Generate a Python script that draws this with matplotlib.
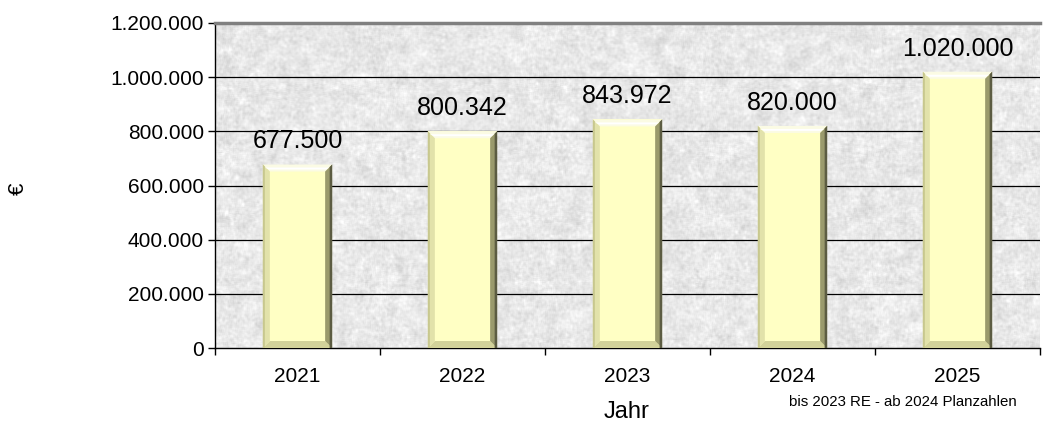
import numpy as np
import matplotlib
matplotlib.use("Agg")
import matplotlib.pyplot as plt
from matplotlib.patches import Polygon

plt.rcParams['font.family'] = ['Liberation Sans', 'DejaVu Sans']

years = ['2021', '2022', '2023', '2024', '2025']
values = [677500, 800342, 843972, 820000, 1020000]
yticks = [0, 200000, 400000, 600000, 800000, 1000000, 1200000]


def de_fmt(v):
    return f"{v:,.0f}".replace(',', '.')


fig = plt.figure(figsize=(10.45, 4.30), dpi=100)
ax = fig.add_axes([215 / 1045, 82 / 430, 825 / 1045, 325 / 430])
ax.set_xlim(-0.5, len(years) - 0.5)
ax.set_ylim(0, 1200000)

# marble-like gray backdrop
rng = np.random.default_rng(7)
def smooth(a, k):
    kern = np.ones(k) / k
    a = np.apply_along_axis(lambda r: np.convolve(r, kern, mode='same'), 0, a)
    a = np.apply_along_axis(lambda r: np.convolve(r, kern, mode='same'), 1, a)
    return a
fine = smooth(rng.normal(size=(330, 830)), 3)
coarse = smooth(rng.normal(size=(330, 830)), 11)
tex = np.clip(0.91 + 0.06 * fine + 0.2 * coarse, 0, 1)
ax.imshow(tex, extent=[-0.5, len(years) - 0.5, 0, 1200000], aspect='auto',
          cmap='gray', vmin=0, vmax=1, zorder=0, interpolation='bilinear')

# horizontal gridlines
for t in yticks[1:-1]:
    ax.axhline(t, color='black', lw=0.9, zorder=1)

x = np.arange(len(years))
width = 0.42
ax.bar(x, values, width=width, color='#ffffc4', edgecolor='none', zorder=2)

# bevel edges, sized in pixels
px_x = (len(years)) / 825
px_y = 1200000 / 325
b = 7
dx, dy = b * px_x, b * px_y
for xi, v in zip(x, values):
    x0, x1 = xi - width / 2, xi + width / 2
    faces = [
        ([(x0, v), (x1, v), (x1 - dx, v - dy), (x0 + dx, v - dy)], '#fbfbe4'),
        ([(x0, 0), (x1, 0), (x1 - dx, dy), (x0 + dx, dy)], '#d2d29a'),
        ([(x0, 0), (x0, v), (x0 + dx, v - dy), (x0 + dx, dy)], '#e2e2aa'),
        ([(x1, 0), (x1, v), (x1 - dx, v - dy), (x1 - dx, dy)], '#9a9a6c'),
    ]
    for pts, c in faces:
        ax.add_patch(Polygon(pts, closed=True, facecolor=c, edgecolor='none', zorder=3))
    # outer shading lines
    ax.add_patch(Polygon([(x1 - 2.5 * px_x, 0), (x1, 0), (x1, v), (x1 - 2.5 * px_x, v - 2.5 * px_y)],
                         closed=True, facecolor='#5c5c42', edgecolor='none', zorder=4))
    ax.add_patch(Polygon([(x0, 0), (x0 + 2 * px_x, 0), (x0 + 2 * px_x, v - 2 * px_y), (x0, v)],
                         closed=True, facecolor='#c8c88e', edgecolor='none', zorder=4))
    ax.add_patch(Polygon([(x0 + 2 * px_x, v - 3 * px_y), (x1 - 3 * px_x, v - 3 * px_y),
                          (x1 - 6 * px_x, v - 5 * px_y), (x0 + 6 * px_x, v - 5 * px_y)],
                         closed=True, facecolor='#ffffff', edgecolor='none', zorder=4))
    ax.annotate(de_fmt(v), (xi, v), xytext=(0, 8), textcoords='offset points',
                ha='center', va='bottom', fontsize=18, zorder=5)

ax.set_yticks(yticks)
ax.set_yticklabels([de_fmt(t) for t in yticks], fontsize=15)
ax.set_xticks(x)
ax.set_xticklabels(years, fontsize=15)
ax.set_xticks(np.arange(-0.5, len(years)), minor=True)
ax.tick_params(axis='x', which='major', length=0, pad=14)
ax.tick_params(axis='x', which='minor', length=5, direction='out', width=1)
ax.tick_params(axis='y', length=5, direction='out', width=1, pad=3)

for s in ['left', 'bottom']:
    ax.spines[s].set_color('black')
    ax.spines[s].set_linewidth(1.0)
ax.spines['top'].set_color('#808080')
ax.spines['top'].set_linewidth(2.5)
ax.spines['right'].set_visible(False)

fig.text(0.018, 0.56, '€', rotation=90, fontsize=16, ha='center', va='center')
fig.text(627 / 1045, 1 - 412 / 430, 'Jahr', fontsize=17, ha='center', va='center')
fig.text(903 / 1045, 1 - 402 / 430, 'bis 2023 RE - ab 2024 Planzahlen', fontsize=10.8,
         ha='center', va='center')

fig.savefig('out.png', dpi=100)
